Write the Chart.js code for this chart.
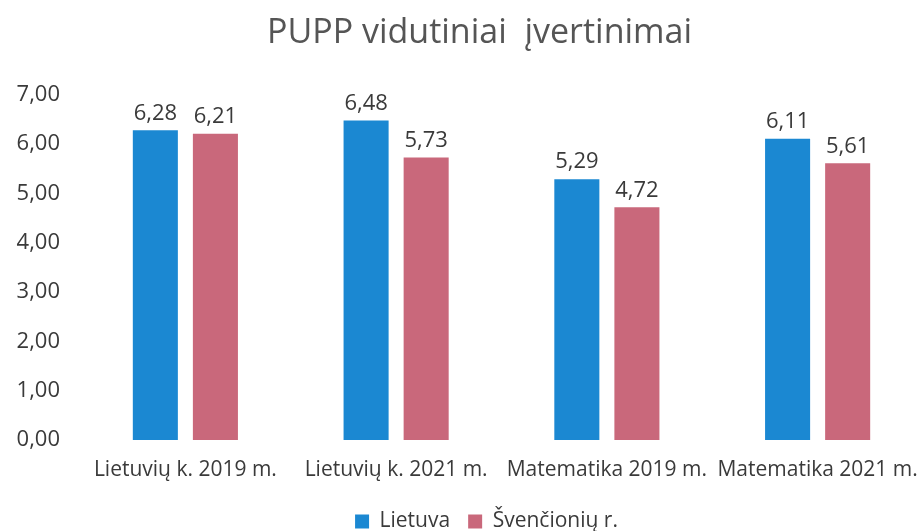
<!DOCTYPE html>
<html>
<head>
<meta charset="utf-8">
<script src="https://cdn.jsdelivr.net/npm/chart.js@4/dist/chart.umd.min.js"></script>
<style>
  html, body { margin: 0; padding: 0; background: #fff; }
  #wrap { width: 923px; height: 531px; }
</style>
</head>
<body>
<div id="wrap"><canvas id="chart"></canvas></div>
<script>
const categories = ["Lietuvių k. 2019 m.", "Lietuvių k. 2021 m.", "Matematika 2019 m.", "Matematika 2021 m."];
const lietuva = [6.28, 6.48, 5.29, 6.11];
const svencioniu = [6.21, 5.73, 4.72, 5.61];
const seriesNames = ["Lietuva", "Švenčionių r."];

const fmt = v => v.toFixed(2).replace(".", ",");

// draws the value above each bar
const valueLabels = {
  id: "valueLabels",
  afterDatasetsDraw(chart) {
    const ctx = chart.ctx;
    ctx.save();
    ctx.font = "22px 'Open Sans'";
    ctx.fillStyle = "#3a3a3a";
    ctx.textAlign = "center";
    ctx.textBaseline = "bottom";
    chart.data.datasets.forEach((ds, i) => {
      chart.getDatasetMeta(i).data.forEach((bar, j) => {
        ctx.fillText(fmt(ds.data[j]), bar.x, bar.y - 6);
      });
    });
    ctx.restore();
  }
};

// title and legend sit a bit right of centre, legend hugs the bottom edge
const nudge = {
  id: "nudge",
  afterLayout(chart) {
    chart.titleBlock.left += 18;
    chart.titleBlock.right += 18;
    const lg = chart.legend;
    const dy = 531 - lg.bottom + 11;
    lg.top += dy;
    lg.bottom += dy;
    lg.left += 25;
    lg.right += 25;
  }
};

var ctx = document.getElementById("chart").getContext("2d");
new Chart(ctx, {
  type: "bar",
  data: {
    labels: categories,
    datasets: [
      { label: seriesNames[0], data: lietuva, backgroundColor: "#1b88d2" },
      { label: seriesNames[1], data: svencioniu, backgroundColor: "#c9687b" }
    ]
  },
  plugins: [valueLabels, nudge],
  options: {
    responsive: true,
    maintainAspectRatio: false,
    animation: false,
    layout: { padding: 0 },
    categoryPercentage: 0.57,
    barPercentage: 0.75,
    scales: {
      x: {
        grid: { display: false },
        border: { display: false },
        ticks: { color: "#3a3a3a", font: { family: "Open Sans", size: 21 }, maxRotation: 0, padding: 9 },
        afterFit: s => {
          s.paddingLeft = 0;
          s.paddingRight = 0;
          s.height = 42;
        }
      },
      y: {
        min: 0,
        max: 7,
        grid: { display: false },
        border: { display: false },
        ticks: {
          stepSize: 1,
          color: "#3a3a3a",
          font: { family: "Open Sans", size: 22 },
          padding: 12,
          callback: v => fmt(v)
        },
        afterFit: s => {
          s.width = 80;
        }
      }
    },
    plugins: {
      title: {
        display: true,
        text: "PUPP vidutiniai  įvertinimai",
        color: "#555555",
        font: { family: "Open Sans", size: 34, weight: "normal" },
        padding: { top: 13, bottom: 41 }
      },
      legend: {
        position: "bottom",
        labels: {
          color: "#3a3a3a",
          font: { family: "Open Sans", size: 21 },
          boxWidth: 14,
          boxHeight: 14,
          padding: 18
        }
      },
      tooltip: { enabled: false }
    }
  }
});
</script>
</body>
</html>
